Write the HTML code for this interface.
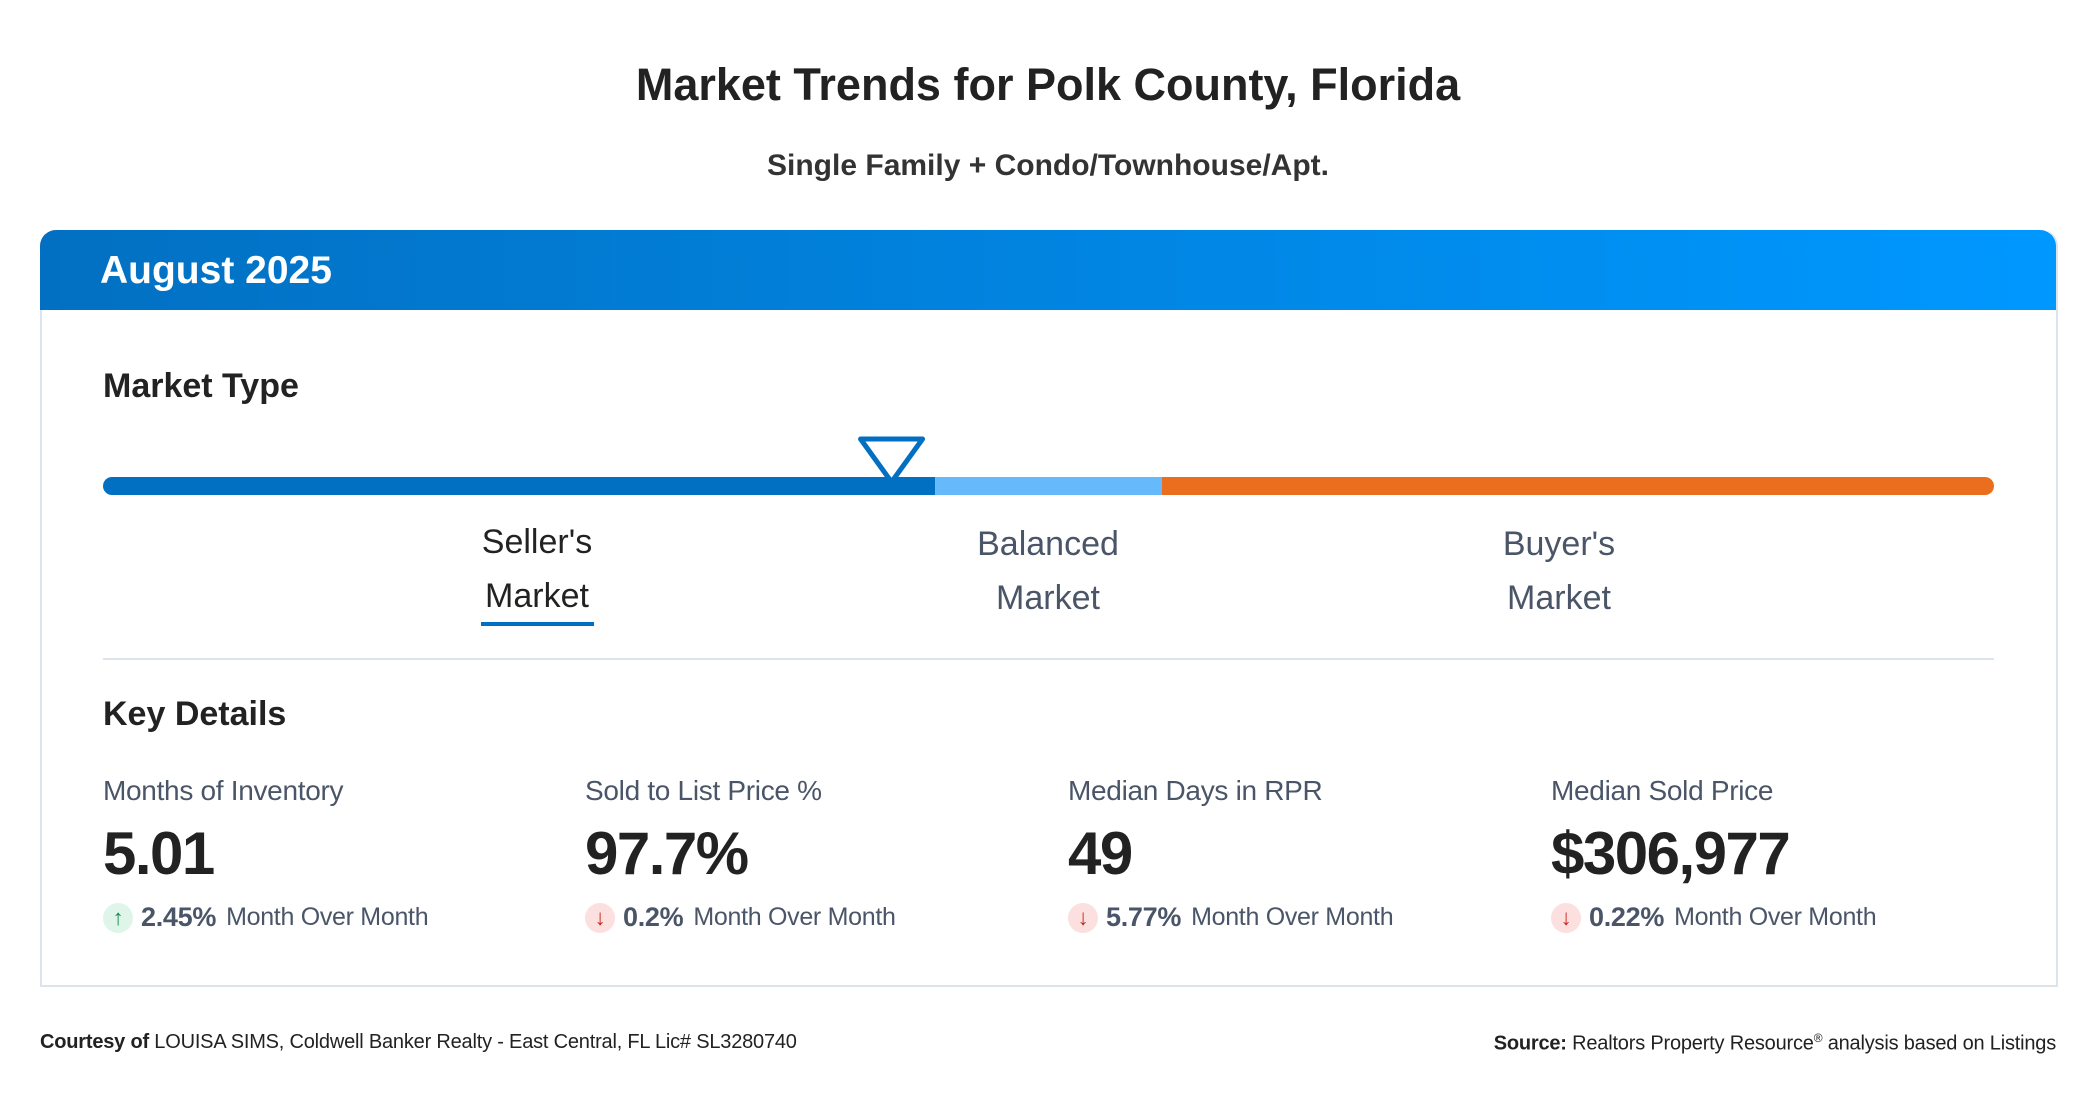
<!DOCTYPE html>
<html><head><meta charset="utf-8"><style>
body{margin:0;width:2096px;height:1100px;background:#fff;font-family:"Liberation Sans",sans-serif;position:relative;overflow:hidden}
.a{position:absolute;white-space:nowrap}
.c{transform:translateX(-50%);text-align:center}
.lbl{font-size:28px;color:#4a5568;letter-spacing:-0.3px}
.val{font-size:60px;font-weight:bold;color:#222;letter-spacing:-1.5px}
.chg{font-size:25px;color:#4a5568;display:flex;align-items:center;letter-spacing:-0.3px}
.chg b{font-size:27px;margin:0 10px 0 8px}
.ic{width:30px;height:30px;border-radius:50%;display:inline-flex;align-items:center;justify-content:center;font-size:22px;font-weight:bold}
.up{background:#dff5ea;color:#16884a}.dn{background:#fbe0df;color:#c6281e}
.mk{font-size:34px;line-height:54px;color:#4a5568}
</style></head><body>
<div class="a c" style="left:1048px;top:59px;font-size:45px;font-weight:bold;color:#222">Market Trends for Polk County, Florida</div>
<div class="a c" style="left:1048px;top:149px;font-size:30px;font-weight:bold;color:#333">Single Family + Condo/Townhouse/Apt.</div>
<div class="a" style="left:40px;top:230px;width:2014px;height:755px;border:2px solid #dde3ea;border-top:none;border-radius:16px 16px 0 0"></div>
<div class="a" style="left:40px;top:230px;width:2016px;height:80px;border-radius:16px 16px 0 0;background:linear-gradient(90deg,#0270c2,#0098ff)"></div>
<div class="a" style="left:100px;top:249px;font-size:39px;font-weight:bold;color:#fff">August 2025</div>
<div class="a" style="left:103px;top:367px;font-size:34px;font-weight:bold;color:#222">Market Type</div>
<svg class="a" style="left:0;top:420px" width="2096" height="90" id="g"></svg>
<div class="a c mk" style="left:537px;top:515px;color:#222">Seller's<br>Market</div>
<div class="a" style="left:481px;top:622px;width:113px;height:4px;background:#0270c2"></div>
<div class="a c mk" style="left:1048px;top:517px">Balanced<br>Market</div>
<div class="a c mk" style="left:1559px;top:517px">Buyer's<br>Market</div>
<div class="a" style="left:103px;top:658px;width:1891px;height:2px;background:#dde3ea"></div>
<div class="a" style="left:103px;top:695px;font-size:34px;font-weight:bold;color:#222">Key Details</div>

<div class="a lbl" style="left:103px;top:775px">Months of Inventory</div>
<div class="a val" style="left:103px;top:819px">5.01</div>
<div class="a chg" style="left:103px;top:902px"><span class="ic up">↑</span><b>2.45%</b>Month Over Month</div>

<div class="a lbl" style="left:585px;top:775px">Sold to List Price %</div>
<div class="a val" style="left:585px;top:819px">97.7%</div>
<div class="a chg" style="left:585px;top:902px"><span class="ic dn">↓</span><b>0.2%</b>Month Over Month</div>

<div class="a lbl" style="left:1068px;top:775px">Median Days in RPR</div>
<div class="a val" style="left:1068px;top:819px">49</div>
<div class="a chg" style="left:1068px;top:902px"><span class="ic dn">↓</span><b>5.77%</b>Month Over Month</div>

<div class="a lbl" style="left:1551px;top:775px">Median Sold Price</div>
<div class="a val" style="left:1551px;top:819px">$306,977</div>
<div class="a chg" style="left:1551px;top:902px"><span class="ic dn">↓</span><b>0.22%</b>Month Over Month</div>

<div class="a" style="left:40px;top:1031px;font-size:20px;color:#222;letter-spacing:-0.2px"><b>Courtesy of</b> LOUISA SIMS, Coldwell Banker Realty - East Central, FL Lic# SL3280740</div>
<div class="a" style="right:40px;top:1031px;font-size:20px;color:#222;letter-spacing:-0.2px"><b>Source:</b> Realtors Property Resource<sup style="font-size:12px">®</sup> analysis based on Listings</div>
<script>
const segStarts=[0,0.44,0.56];
const segEnds=[0.44,0.56,1];
const segColors=["#0270c2","#66b9fb","#eb6e1f"];
const markerValue=0.417;
const g=document.getElementById('g');
const x0=103,x1=1994,x=v=>x0+v*(x1-x0);
const ns="http://www.w3.org/2000/svg";
const cp=document.createElementNS(ns,'clipPath');cp.id='cl';
const cr=document.createElementNS(ns,'rect');
cr.setAttribute('x',x0);cr.setAttribute('y',57);cr.setAttribute('width',x1-x0);cr.setAttribute('height',18);cr.setAttribute('rx',9);
cp.appendChild(cr);g.appendChild(cp);
segStarts.forEach((s,i)=>{const r=document.createElementNS(ns,'rect');


r.setAttribute('x',x(s));r.setAttribute('y',57);r.setAttribute('width',x(segEnds[i])-x(s));r.setAttribute('height',18);r.setAttribute('fill',segColors[i]);r.setAttribute('clip-path','url(#cl)');g.appendChild(r);});
const m=x(markerValue);
const p=document.createElementNS(ns,'path');


p.setAttribute('d',`M${m-31} 19 L${m+31} 19 L${m} 62 Z`);p.setAttribute('fill','#fff');p.setAttribute('stroke','#0270c2');p.setAttribute('stroke-width','5');p.setAttribute('stroke-linejoin','round');g.appendChild(p);
</script>
</body></html>
